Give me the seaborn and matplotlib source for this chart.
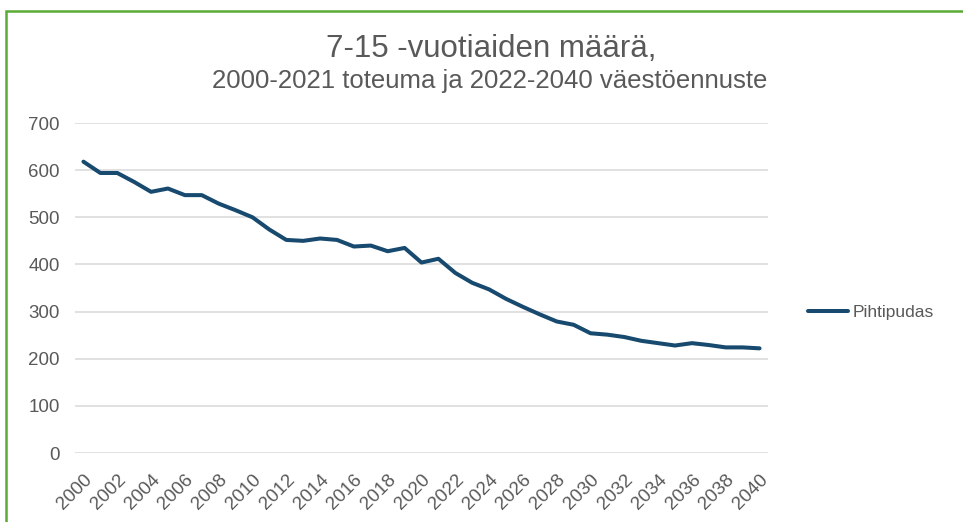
import matplotlib
matplotlib.use("Agg")
import matplotlib.pyplot as plt
import pandas as pd
import seaborn as sns
from matplotlib.patches import Rectangle

years = list(range(2000, 2041))
pihtipudas = [618, 594, 594, 575, 554, 561, 547, 547, 529, 515,
              500, 474, 452, 450, 455, 452, 438, 440, 428, 435,
              404, 412, 382, 361, 347, 327, 310, 294, 279, 272,
              254, 251, 246, 238, 233, 228, 233, 229, 224, 224,
              222]
series_name = "Pihtipudas"
title_main = "7-15 -vuotiaiden määrä,"
title_sub = "2000-2021 toteuma ja 2022-2040 väestöennuste"

df = pd.DataFrame({"vuosi": years, "lkm": pihtipudas, "alue": series_name})

sns.set_style("white")
plt.rcParams["font.family"] = ["Liberation Sans", "DejaVu Sans"]

grey = "#595959"
fig = plt.figure(figsize=(9.63, 5.22), dpi=100)
ax = fig.add_axes([75 / 963, 1 - 453 / 522, 693 / 963, 330 / 522])

sns.lineplot(data=df, x="vuosi", y="lkm", hue="alue", palette=["#174A6E"],
             linewidth=2.9, ax=ax, legend=True)

ax.set_xlim(1999.5, 2040.5)
ax.set_ylim(0, 700)
ax.set_yticks(range(0, 701, 100))
ax.set_xticks(years[::2])
ax.set_xticklabels([str(y) for y in years[::2]], rotation=45, ha="right",
                   rotation_mode="anchor", fontsize=13.5, color=grey)
ax.tick_params(axis="y", labelsize=13.5, labelcolor=grey, length=0, pad=11)
ax.tick_params(axis="x", length=0, pad=13)
ax.grid(axis="y", color="#D9D9D9", linewidth=1.1)
ax.set_axisbelow(True)
for s in ax.spines.values():
    s.set_visible(False)
ax.set_xlabel("")
ax.set_ylabel("")

leg = ax.legend(loc="center left", bbox_to_anchor=(1.035, 0.425), frameon=False,
                fontsize=12.5, handlelength=2.3, handletextpad=0.3)
for t in leg.get_texts():
    t.set_color(grey)

fig.text(0.51, 1 - 57 / 522, title_main, ha="center", va="baseline",
         fontsize=22.5, color=grey)
fig.text(0.508, 1 - 88 / 522, title_sub, ha="center", va="baseline",
         fontsize=18.5, color=grey)

# green frame of the chart area
fig.patches.append(Rectangle((6 / 963, -0.1), 1.2, 1 - 11 / 522 + 0.1,
                             transform=fig.transFigure, fill=False,
                             edgecolor="#5BAA35", linewidth=1.8))

fig.savefig("out.png", dpi=100)
